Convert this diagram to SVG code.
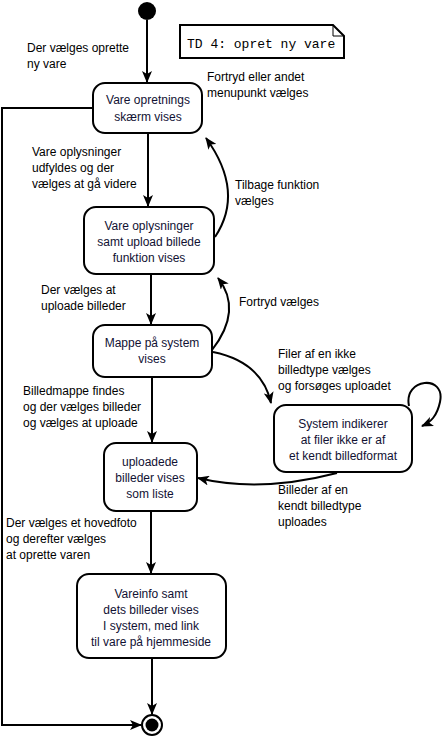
<svg xmlns="http://www.w3.org/2000/svg" width="442" height="743" viewBox="0 0 442 743">
<style>
.node rect{fill:#fff;stroke:#000;stroke-width:2}
.node text{font-family:"Liberation Sans",Arial,sans-serif;font-size:12px;fill:#111133;text-anchor:middle}
.lbl{font-family:"Liberation Sans",Arial,sans-serif;font-size:12px;fill:#000}
.conn path{fill:none;stroke:#000;stroke-width:2;marker-end:url(#ah)}
.note text{font-family:"Liberation Mono","Courier New",monospace;font-size:13px;fill:#000}
</style>
<defs>
<marker id="ah" viewBox="0 0 12 10" refX="11" refY="5" markerWidth="12" markerHeight="10" markerUnits="userSpaceOnUse" orient="auto">
<path d="M0,0 L12,5 L0,10 L3,5 z" fill="#000"/>
</marker>
</defs>
<rect width="442" height="743" fill="#fff"/>
<g id="start"><circle cx="147" cy="11" r="9" fill="#000"/></g>
<g id="note" class="note">
<path d="M180,25 H333 L344,36 V58 H180 Z" fill="#fff" stroke="#000" stroke-width="2"/>
<path d="M333,25 V36 H344" fill="none" stroke="#000" stroke-width="1"/>
<text x="187" y="48">TD 4: opret ny vare</text>
</g>
<g id="n1" class="node"><rect x="93" y="83" width="109" height="50" rx="12"/>
<text x="148" y="104">Vare opretnings</text><text x="148" y="121">skærm vises</text></g>
<g id="n2" class="node"><rect x="84" y="207" width="130" height="67" rx="12"/>
<text x="149" y="230">Vare oplysninger</text><text x="149" y="246">samt upload billede</text><text x="149" y="262">funktion vises</text></g>
<g id="n3" class="node"><rect x="93" y="325" width="119" height="52" rx="12"/>
<text x="152" y="347">Mappe på system</text><text x="152" y="363">vises</text></g>
<g id="n4" class="node"><rect x="274" y="405" width="138" height="67" rx="12"/>
<text x="343" y="428">System indikerer</text><text x="343" y="444">at filer ikke er af</text><text x="343" y="460">et kendt billedformat</text></g>
<g id="n5" class="node"><rect x="104" y="443" width="93" height="68" rx="12"/>
<text x="150" y="466">uploadede</text><text x="150" y="482">billeder vises</text><text x="150" y="498">som liste</text></g>
<g id="n6" class="node"><rect x="77" y="574" width="149" height="84" rx="12"/>
<text x="151" y="598">Vareinfo samt</text><text x="151" y="614">dets billeder vises</text><text x="151" y="630">I system, med link</text><text x="151" y="646">til vare på hjemmeside</text></g>
<g id="end"><circle cx="152" cy="725" r="10" fill="#fff" stroke="#000" stroke-width="2"/><circle cx="152" cy="725" r="6.5" fill="#000"/></g>
<g id="connectors" class="conn">
<path d="M147,20 V82"/>
<path d="M148,133 V206"/>
<path d="M151,274 V324"/>
<path d="M152,377 V442"/>
<path d="M151,511 V573"/>
<path d="M152,658 V714"/>
<path d="M93,108 H2 V725 H141"/>
<path d="M215,237 Q245,192 206,138"/>
<path d="M212,350 Q243,310 218,278"/>
<path d="M213,352 Q262,362 271,403"/>
<path d="M337,473 Q260,493 198,478"/>
<path d="M409,406 C403,378 446,374 440,402 C437,416 431,422 422,426"/>
</g>
<g id="labels" class="lbl">
<text x="27" y="52">Der vælges oprette</text><text x="27" y="68">ny vare</text>
<text x="207" y="81">Fortryd eller andet</text><text x="207" y="97">menupunkt vælges</text>
<text x="32" y="156">Vare oplysninger</text><text x="32" y="172">udfyldes og der</text><text x="32" y="188">vælges at gå videre</text>
<text x="235" y="189">Tilbage funktion</text><text x="235" y="205">vælges</text>
<text x="41" y="294">Der vælges at</text><text x="41" y="310">uploade billeder</text>
<text x="239" y="306">Fortryd vælges</text>
<text x="278" y="358">Filer af en ikke</text><text x="278" y="374">billedtype vælges</text><text x="278" y="390">og forsøges uploadet</text>
<text x="23" y="395">Billedmappe findes</text><text x="23" y="411">og der vælges billeder</text><text x="23" y="427">og vælges at uploade</text>
<text x="278" y="494">Billeder af en</text><text x="278" y="510">kendt billedtype</text><text x="278" y="526">uploades</text>
<text x="6" y="527">Der vælges et hovedfoto</text><text x="6" y="543">og derefter vælges</text><text x="6" y="559">at oprette varen</text>
</g>
</svg>
